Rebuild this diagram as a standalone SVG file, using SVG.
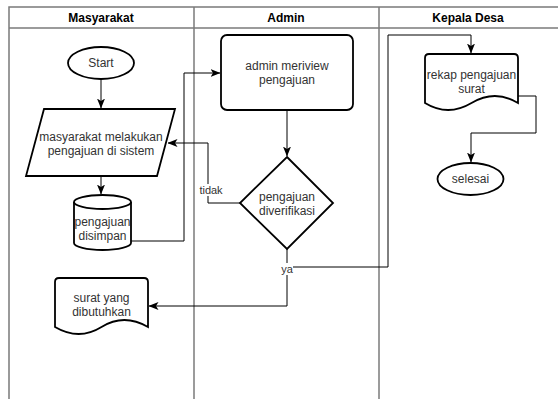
<svg xmlns="http://www.w3.org/2000/svg" width="558" height="399" viewBox="0 0 558 399">
<defs>
<style>
.lane{fill:none;stroke:#7a7a7a;stroke-width:1.5}
.node{fill:#fff;stroke:#000;stroke-width:1.8}
.conn{fill:none;stroke:#000;stroke-width:1}
.t{font-family:"Liberation Sans",Arial,sans-serif;font-size:12px;fill:#333;text-anchor:middle}
.h{font-family:"Liberation Sans",Arial,sans-serif;font-size:12px;font-weight:bold;fill:#000;text-anchor:middle}
.lbl{font-family:"Liberation Sans",Arial,sans-serif;font-size:11px;fill:#333;text-anchor:middle}
</style>
<marker id="arr" viewBox="0 0 10 8" refX="9.5" refY="4" markerWidth="10" markerHeight="8" markerUnits="userSpaceOnUse" orient="auto">
<path d="M0,0 L10,4 L0,8 L2.5,4 Z" fill="#000"/>
</marker>
</defs>
<rect width="558" height="399" fill="#fff"/>
<g id="lanes">
<rect class="lane" x="9" y="7" width="560" height="400"/>
<line class="lane" x1="9" y1="28" x2="560" y2="28"/>
<line class="lane" x1="194" y1="7" x2="194" y2="400"/>
<line class="lane" x1="379" y1="7" x2="379" y2="400"/>
<text class="h" x="101" y="22">Masyarakat</text>
<text class="h" x="286" y="22">Admin</text>
<text class="h" x="468" y="22">Kepala Desa</text>
</g>
<g id="connectors">
<path class="conn" d="M101,79 V108" marker-end="url(#arr)"/>
<path class="conn" d="M101,176 V194" marker-end="url(#arr)"/>
<path class="conn" d="M131,241 H184 V73 H220" marker-end="url(#arr)"/>
<path class="conn" d="M287,110 V156" marker-end="url(#arr)"/>
<path class="conn" d="M240,203 H208 V143 H168" marker-end="url(#arr)"/>
<path class="conn" d="M287,249 V306 H149" marker-end="url(#arr)"/>
<path class="conn" d="M287,267 H388 V35 H471 V53" marker-end="url(#arr)"/>
<path class="conn" d="M518,96 H536 V133 H471 V162" marker-end="url(#arr)"/>
<rect x="199" y="184" width="24" height="12" fill="#fff"/>
<text class="lbl" x="211" y="194">tidak</text>
<rect x="281" y="263" width="12" height="12" fill="#fff"/>
<text class="lbl" x="287" y="273">ya</text>
</g>
<g id="start">
<ellipse class="node" cx="101" cy="63" rx="33" ry="16"/>
<text class="t" x="101" y="67">Start</text>
</g>
<g id="input">
<path class="node" d="M44,109 H175 L157,176 H26 Z"/>
<text class="t" x="101" y="141">masyarakat melakukan</text>
<text class="t" x="101" y="155">pengajuan di sistem</text>
</g>
<g id="db">
<path class="node" d="M74,202 A28.5,7 0 0 1 131,202 V243 A28.5,7 0 0 1 74,243 Z"/>
<path class="node" d="M74,202 A28.5,7 0 0 0 131,202" fill="none"/>
<text class="t" x="102.5" y="226">pengajuan</text>
<text class="t" x="102.5" y="240">disimpan</text>
</g>
<g id="surat">
<path class="node" d="M59,278 H144 Q148,278 148,282 V327 Q124,313 101.5,327 Q79,341 55,327 V282 Q55,278 59,278 Z"/>
<text class="t" x="101.5" y="302">surat yang</text>
<text class="t" x="101.5" y="316">dibutuhkan</text>
</g>
<g id="review">
<rect class="node" x="221" y="35" width="132" height="75" rx="6"/>
<text class="t" x="287" y="70">admin meriview</text>
<text class="t" x="287" y="84">pengajuan</text>
</g>
<g id="verify">
<path class="node" d="M287,157 L333,203 L287,249 L240,203 Z"/>
<text class="t" x="287" y="201">pengajuan</text>
<text class="t" x="287" y="215">diverifikasi</text>
</g>
<g id="rekap">
<path class="node" d="M429,54 H514 Q518,54 518,58 V103 Q495,89 471.5,103 Q448,117 425,103 V58 Q425,54 429,54 Z"/>
<text class="t" x="471.5" y="79">rekap pengajuan</text>
<text class="t" x="471.5" y="93">surat</text>
</g>
<g id="selesai">
<ellipse class="node" cx="470.5" cy="179" rx="33" ry="16"/>
<text class="t" x="470.5" y="183">selesai</text>
</g>
</svg>
